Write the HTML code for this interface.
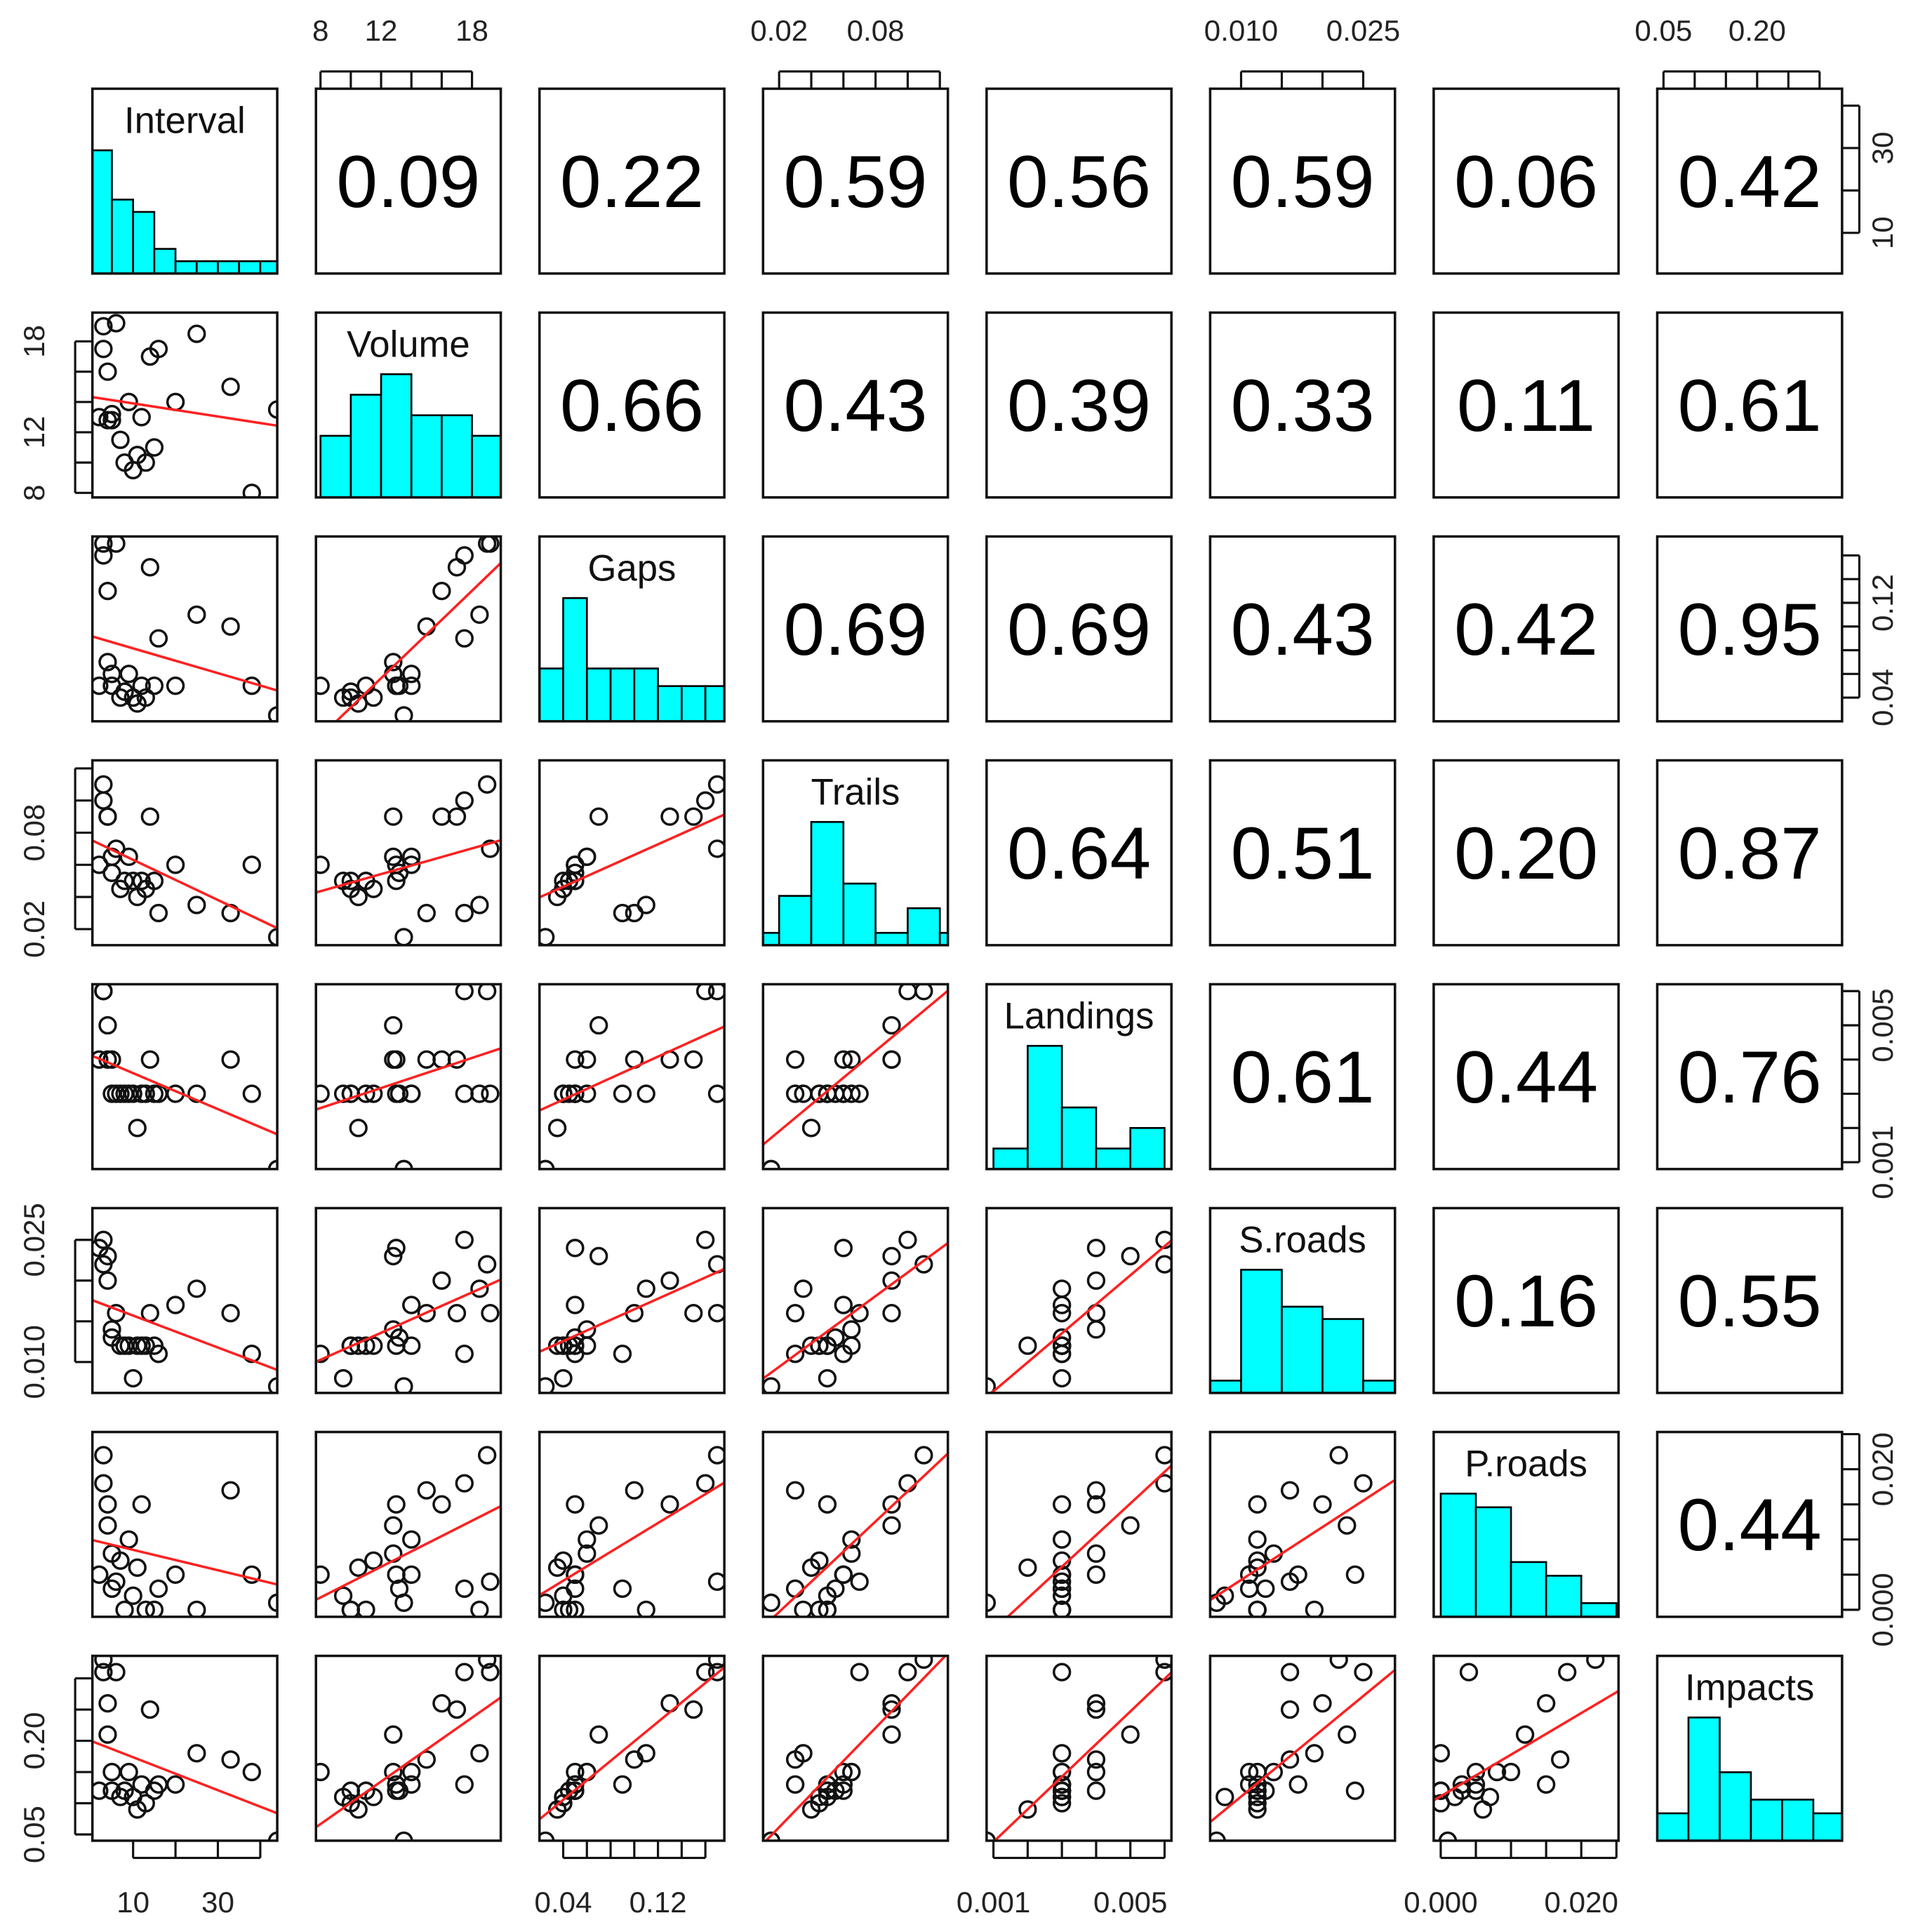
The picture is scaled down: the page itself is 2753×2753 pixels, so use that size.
<!DOCTYPE html>
<html><head><meta charset="utf-8"><style>
html,body{margin:0;padding:0;background:#fff;}
svg{display:block;}
text{font-family:"Liberation Sans",Arial,sans-serif;}
</style></head><body>
<svg id="chart" xmlns="http://www.w3.org/2000/svg" width="2753" height="2753" viewBox="0 0 1568 1568"></svg>
<script>
const varNames = ["Interval","Volume","Gaps","Trails","Landings","S.roads","P.roads","Impacts"];
const interval = [2,3,3,4,4,5,5,6,7,8,9,10,11,12,13,14,15,16,20,25,33,38,44];
const volume   = [13.0,19.0,17.5,12.8,16.0,12.8,13.2,19.2,11.5,10.0,14.0,9.5,10.5,13.0,10.0,17.0,11.0,17.5,14.0,18.5,15.0,8.0,13.5];
const gaps     = [0.05,0.17,0.16,0.07,0.13,0.06,0.05,0.17,0.04,0.045,0.06,0.04,0.035,0.05,0.04,0.15,0.05,0.09,0.05,0.11,0.10,0.05,0.025];
const trails   = [0.06,0.11,0.10,0.09,0.09,0.065,0.055,0.07,0.045,0.05,0.065,0.05,0.04,0.05,0.045,0.09,0.05,0.03,0.06,0.035,0.03,0.06,0.015];
const landings = [0.004,0.006,0.006,0.005,0.004,0.004,0.003,0.003,0.003,0.003,0.003,0.003,0.002,0.003,0.003,0.004,0.003,0.003,0.003,0.003,0.004,0.003,0.0008];
const sroads   = [0.024,0.022,0.025,0.023,0.020,0.014,0.013,0.016,0.012,0.012,0.012,0.008,0.012,0.012,0.012,0.016,0.012,0.011,0.017,0.019,0.016,0.011,0.007];
const proads   = [0.005,0.022,0.018,0.012,0.015,0.008,0.003,0.004,0.007,0.0,0.010,0.002,0.006,0.015,0.0,0.027,0.0,0.003,0.005,0.0,0.017,0.005,0.001];
const impacts  = [0.12,0.33,0.31,0.21,0.26,0.15,0.12,0.31,0.11,0.12,0.15,0.11,0.09,0.13,0.10,0.25,0.12,0.13,0.13,0.18,0.17,0.15,0.04];
const corrLabels = [
 [null,"0.09","0.22","0.59","0.56","0.59","0.06","0.42"],
 [null,null,"0.66","0.43","0.39","0.33","0.11","0.61"],
 [null,null,null,"0.69","0.69","0.43","0.42","0.95"],
 [null,null,null,null,"0.64","0.51","0.20","0.87"],
 [null,null,null,null,null,"0.61","0.44","0.76"],
 [null,null,null,null,null,null,"0.16","0.55"],
 [null,null,null,null,null,null,null,"0.44"]];
const histEdges = [
 [0,5,10,15,20,25,30,35,40,45],
 [8,10,12,14,16,18,20],
 [0.02,0.04,0.06,0.08,0.10,0.12,0.14,0.16,0.18],
 [0,0.02,0.04,0.06,0.08,0.10,0.12,0.14],
 [0.001,0.002,0.003,0.004,0.005,0.006],
 [0.005,0.010,0.015,0.020,0.025,0.030],
 [0,0.005,0.010,0.015,0.020,0.025],
 [0.04,0.09,0.14,0.19,0.24,0.29,0.34]];
const histCounts = [
 [10,6,5,2,1,1,1,1,1],
 [3,5,6,4,4,3],
 [3,7,3,3,3,2,2,2],
 [1,4,10,5,1,3,1],
 [1,6,3,1,2],
 [1,10,7,6,1],
 [9,8,4,3,1],
 [2,9,5,3,3,2]];
const rangeLo = [0.4,7.7,0.02,0.01,0.0008,0.0062,-0.001,0.04];
const rangeHi = [44,19.9,0.176,0.125,0.0062,0.0289,0.0253,0.336];
const tickVals = [
 [10,20,30,40],
 [8,10,12,14,16,18],
 [0.04,0.06,0.08,0.10,0.12,0.14,0.16],
 [0.02,0.04,0.06,0.08,0.10,0.12],
 [0.001,0.002,0.003,0.004,0.005,0.006],
 [0.010,0.015,0.020,0.025],
 [0.000,0.005,0.010,0.015,0.020,0.025],
 [0.05,0.10,0.15,0.20,0.25,0.30]];
const tickLabels = [
 [[10,"10"],[30,"30"]],
 [[8,"8"],[12,"12"],[18,"18"]],
 [[0.04,"0.04"],[0.12,"0.12"]],
 [[0.02,"0.02"],[0.08,"0.08"]],
 [[0.001,"0.001"],[0.005,"0.005"]],
 [[0.010,"0.010"],[0.025,"0.025"]],
 [[0.000,"0.000"],[0.020,"0.020"]],
 [[0.05,"0.05"],[0.20,"0.20"]]];
const data = [interval,volume,gaps,trails,landings,sroads,proads,impacts];

const NS="http://www.w3.org/2000/svg";
const svg=document.getElementById('chart');
const P=150, X0=75, Y0=72, SX=181.43, SY=181.7;
function px(c){return X0+c*SX;}
function py(r){return Y0+r*SY;}
function sx(v,c,val){return px(c)+(val-rangeLo[v])/(rangeHi[v]-rangeLo[v])*P;}
function sy(v,r,val){return py(r)+P-(val-rangeLo[v])/(rangeHi[v]-rangeLo[v])*P;}
function mk(tag,attrs,parent){const e=document.createElementNS(NS,tag);for(const k in attrs)e.setAttribute(k,attrs[k]);(parent||svg).appendChild(e);return e;}

const defs=mk('defs',{});
for(let r=0;r<8;r++)for(let c=0;c<8;c++){
  const cp=mk('clipPath',{id:'cp'+r+'_'+c},defs);
  mk('rect',{x:px(c),y:py(r),width:P,height:P},cp);
}

for(let r=0;r<8;r++){
  for(let c=0;c<8;c++){
    const g=mk('g',{});
    
    
    const x0=px(c), y0=py(r);
    if(r===c){
      const e=histEdges[r], cnt=histCounts[r], mx=Math.max(...cnt);
      const hg=mk('g',{'clip-path':'url(#cp'+r+'_'+c+')'},g);
      for(let i=0;i<cnt.length;i++){
        const xa=sx(r,c,e[i]), xb=sx(r,c,e[i+1]);
        const h=cnt[i]/mx*P/1.5;
        const b=mk('rect',{x:xa,y:y0+P-h,width:xb-xa,height:h,fill:'#00ffff',stroke:'#000','stroke-width':1.5},hg);
        
        
      }
      const t=mk('text',{x:x0+P/2,y:y0+36,'text-anchor':'middle','font-size':30,fill:'#111'},g);
      t.textContent=varNames[r];
      
      
    } else if(c>r){
      const t=mk('text',{x:x0+P/2,y:y0+P/2+21,'text-anchor':'middle','font-size':60,fill:'#000'},g);
      t.textContent=corrLabels[r][c];
      
      
    } else {
      const xs=data[c], ys=data[r];
      const pg=mk('g',{'clip-path':'url(#cp'+r+'_'+c+')'},g);
      const n=xs.length;
      let mxv=0,myv=0;for(let i=0;i<n;i++){mxv+=xs[i];myv+=ys[i];}mxv/=n;myv/=n;
      let sxy=0,sxx=0;for(let i=0;i<n;i++){sxy+=(xs[i]-mxv)*(ys[i]-myv);sxx+=(xs[i]-mxv)**2;}
      const b1=sxy/sxx, b0=myv-b1*mxv;
      for(let i=0;i<n;i++){
        const pt=mk('circle',{cx:sx(c,c,xs[i]),cy:sy(r,r,ys[i]),r:6.5,fill:'none',stroke:'#111','stroke-width':2},pg);
        
        
      }
      const xa=rangeLo[c], xb=rangeHi[c];
      const ln=mk('line',{x1:sx(c,c,xa),y1:sy(r,r,b0+b1*xa),x2:sx(c,c,xb),y2:sy(r,r,b0+b1*xb),stroke:'#ff2020','stroke-width':2},pg);
      
      
    }
    const border=mk('rect',{x:x0,y:y0,width:P,height:P,fill:'none',stroke:'#111','stroke-width':2},g);
    
    
  }
}

for(let v=0;v<8;v++){
  const ag=mk('g',{stroke:'#111','stroke-width':1.8});
  
  
  const tv=tickVals[v], tl=tickLabels[v];
  const top=(v%2===1);
  const yb= top? Y0 : py(7)+P;
  const dir= top? -1 : 1;
  mk('line',{x1:sx(v,v,tv[0]),y1:yb+dir*14,x2:sx(v,v,tv[tv.length-1]),y2:yb+dir*14},ag);
  tv.forEach(t=>{const x=sx(v,v,t);mk('line',{x1:x,y1:yb+dir*14,x2:x,y2:yb},ag);});
  tl.forEach(([t,s])=>{
    const tx=mk('text',{x:sx(v,v,t),y:top?33:1552,'text-anchor':'middle','font-size':24,fill:'#222',stroke:'none'});
    tx.textContent=s;
    
    
  });
  const left=(v%2===1);
  const xb= left? X0 : px(7)+P;
  const dx= left? -1 : 1;
  mk('line',{x1:xb+dx*14,y1:sy(v,v,tv[0]),x2:xb+dx*14,y2:sy(v,v,tv[tv.length-1])},ag);
  tv.forEach(t=>{const y=sy(v,v,t);mk('line',{x1:xb+dx*14,y1:y,x2:xb,y2:y},ag);});
  tl.forEach(([t,s])=>{
    const y=sy(v,v,t), x= left? 36 : 1536;
    const tx=mk('text',{x:x,y:y,'text-anchor':'middle','font-size':24,fill:'#222',stroke:'none',transform:'rotate(-90 '+x+' '+y+')'});
    tx.textContent=s;
    
    
  });
}
</script>
</body></html>
